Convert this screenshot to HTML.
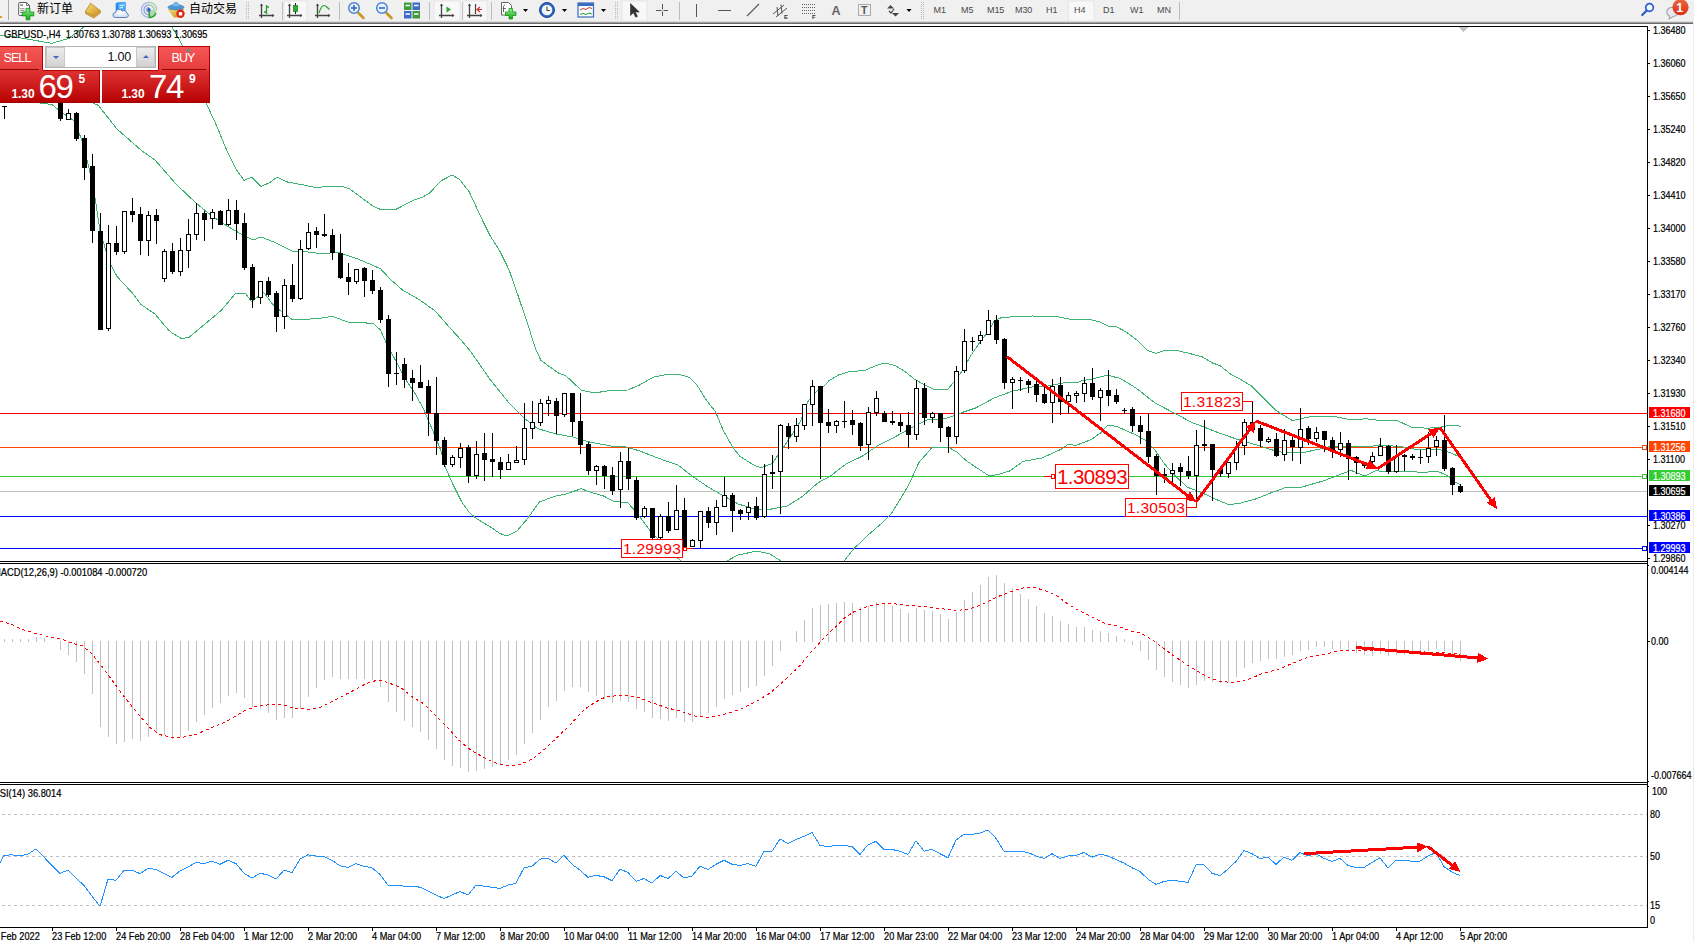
<!DOCTYPE html>
<html><head><meta charset="utf-8"><title>GBPUSD H4</title><style>
*{box-sizing:border-box;margin:0;padding:0}
html,body{width:1694px;height:942px;overflow:hidden;background:#fff}
body{position:relative;font-family:"Liberation Sans","Noto Sans CJK SC",sans-serif;color:#000}
.cv{position:absolute;left:0;top:0}
.tb{position:absolute;left:0;top:0;width:1694px;height:22px;background:#f0f0f0}
.tbl{position:absolute;left:0;top:21px;width:1693px;height:3px;background:linear-gradient(#dcdcdc 0,#dcdcdc 33.3%,#a0a0a0 33.3%,#a0a0a0 66.6%,#6c6c6c 66.6%)}.re{position:absolute;left:1693px;top:21px;width:1px;height:921px;background:#ececec}
.ax{position:absolute;-webkit-text-stroke:0.22px #000;font-size:10.3px;line-height:12px;white-space:pre;transform-origin:0 0;margin-top:1px}
.ti{font-size:10.3px}
.pl{position:absolute;left:1649px;width:41px;height:11px;color:#fff;font-size:10.3px;line-height:12px;white-space:pre;-webkit-text-stroke:0.2px #fff}.pl span{display:block;margin-left:4.4px;margin-top:1.1px;transform:scaleX(.875);transform-origin:0 0}
.rl{position:absolute;border:1px solid #ff0000;background:#fff;color:#ff0000;text-align:center;white-space:pre;font-family:"Liberation Sans",sans-serif}
.pn{position:absolute;left:0;top:46px;width:210px;height:57px;background:#fff}
.sell,.buy{position:absolute;top:0;height:25px;background:linear-gradient(#f85858,#e33c3c);color:#fff;font-size:12.5px;line-height:24px;letter-spacing:-0.9px}
.sell{left:0;width:43px;box-shadow:inset -1px 1px 0 #b40000}
.sell span{position:absolute;left:3.5px}
.buy{left:158px;width:52px;box-shadow:inset 1px 1px 0 #b40000,inset -1px 0 0 #b40000}
.buy span{position:absolute;left:13.5px}
.sell u,.buy u{position:absolute;top:24px;height:1px;background:#f87878}.sell u.d,.buy u.d{top:23px;background:#900000}.tp{position:absolute;top:24px;height:1px;background:#b40000}.dm{position:absolute;left:187px;top:3px;width:3px;height:3px;border:1px solid #2aa0a0;transform:rotate(45deg)}
.spin{position:absolute;left:45px;top:0;width:111px;height:22px;border:1px solid #b5b5b5;background:#fff;display:flex}
.sb{width:19px;height:20px;background:linear-gradient(#ececec,#d2d2d2);border:1px solid #fafafa;position:relative;outline:1px solid #c8c8c8;outline-offset:-1px}
.sb i{position:absolute;left:6px;top:8px;border-left:3px solid transparent;border-right:3px solid transparent}
.sb i.dn{border-top:3.5px solid #4864c8}
.sb i.up{border-bottom:3.5px solid #4864c8;top:7px}
.si{flex:1;text-align:right;padding-right:5px;font-size:12.5px;line-height:20px;color:#111;letter-spacing:-0.2px}
.pb{position:absolute;top:24px;height:33px;background:linear-gradient(#df3333,#cc1b1b 50%,#b50000);color:#fff;box-shadow:inset 0 -1px 0 #a40000,inset -1px 0 0 #b00000}
.pb .sm{position:absolute;top:17.5px;font-size:12px;line-height:12px;letter-spacing:-0.1px}
.pb .bg{position:absolute;top:-0.5px;font-size:33px;line-height:33px;letter-spacing:-1.4px}
.pb .sp{position:absolute;top:2.5px;font-size:12px;line-height:12px}
.tx{position:absolute;top:0;font-size:12px;line-height:18px;white-space:pre;color:#000}
.tf{position:absolute;top:5px;font-size:9px;line-height:10px;color:#4a4a4a;white-space:pre;letter-spacing:-0.1px}
.ti2{position:absolute;left:0;top:0}
</style></head>
<body>
<div class="tb"></div><div class="tbl"></div><div class="re"></div>
<svg class="cv" width="1694" height="942" viewBox="0 0 1694 942" shape-rendering="crispEdges"><rect x="0" y="413" width="1647" height="1" fill="#ff0000"/><rect x="0" y="447" width="1647" height="1" fill="#ff4500"/><rect x="0" y="476" width="1647" height="1" fill="#32cd32"/><rect x="0" y="491" width="1647" height="1" fill="#c0c0c0"/><rect x="0" y="516" width="1647" height="1" fill="#0000ff"/><rect x="0" y="548" width="1647" height="1" fill="#0000ff"/><g fill="none" stroke="#3cb371" stroke-width="1"><polyline points="0.0,35.5 14.0,36.9 35.0,40.4 52.0,43.3 69.0,38.3 85.0,26.0"/><polyline points="171.5,26.0 181.5,43.5 207.0,105.0 216.7,126.0 226.0,148.5 235.6,168.5 244.0,180.5 251.5,177.2 261.0,186.5 269.6,182.6 277.0,177.2 288.0,182.2 303.0,184.8 317.0,188.0 324.5,186.6 342.0,186.4 350.0,189.0 361.6,197.8 373.0,206.0 380.5,209.5 395.6,209.5 414.5,199.7 422.0,197.4 429.6,193.0 441.0,180.8 452.3,175.0 460.0,179.8 469.3,192.0 480.7,216.7 490.0,235.6 499.6,250.7 509.0,269.6 518.5,297.0 528.0,325.0 535.5,349.0 541.0,360.5 558.0,372.8 565.7,375.6 581.0,390.0 594.0,393.0 611.0,390.4 628.0,390.0 640.0,384.8 653.0,377.3 666.5,374.5 679.7,374.5 689.0,377.3 696.7,384.5 706.0,399.6 715.6,412.0 723.0,430.0 732.6,447.0 740.0,456.4 753.4,464.9 761.0,467.7 772.3,463.5 783.7,447.0 791.0,436.0 800.7,421.0 808.0,401.5 815.8,392.0 823.4,386.4 829.0,380.7 838.5,375.0 848.0,372.0 865.0,370.3 876.0,365.6 884.8,363.0 895.0,365.6 904.7,371.3 914.0,378.8 923.6,384.5 933.0,389.0 948.0,389.0 954.0,382.0 962.0,371.0 971.8,354.0 979.4,343.0 988.8,330.6 994.5,320.5 1002.0,317.4 1032.0,316.0 1057.0,316.5 1070.0,319.3 1089.0,319.3 1100.0,322.0 1108.0,326.0 1117.0,327.0 1127.0,332.5 1138.0,341.0 1147.6,350.5 1156.0,353.3 1164.7,350.5 1174.0,350.0 1189.0,353.3 1202.5,357.0 1212.0,362.8 1220.0,365.6 1231.4,374.7 1241.6,380.0 1251.0,385.7 1260.5,395.0 1275.6,410.0 1283.0,415.0 1292.6,420.6 1313.4,416.0 1332.0,416.0 1351.0,419.7 1366.0,418.8 1381.5,420.6 1396.6,420.3 1411.7,427.3 1426.8,428.2 1440.0,427.3 1451.0,425.0 1461.0,426.3"/><polyline points="0.0,68.0 50.0,84.0 98.3,105.4 117.0,129.0 141.8,150.8 155.0,160.0 175.8,183.8 195.7,202.8 208.0,213.0 223.0,223.6 242.0,234.6 253.0,240.0 261.0,237.0 274.0,242.0 293.0,251.4 302.5,251.4 320.0,253.5 339.0,252.6 357.8,258.9 380.5,268.7 390.0,279.0 403.0,290.4 418.3,299.0 435.3,311.0 448.5,326.4 459.0,337.7 471.0,352.0 490.0,379.4 509.0,403.0 524.0,418.0 537.4,428.5 556.0,434.0 573.0,437.0 588.4,441.8 611.0,446.0 624.0,446.5 640.0,451.0 649.5,454.8 664.6,460.5 677.8,465.0 693.0,476.6 708.0,487.0 723.0,495.5 738.3,504.0 753.4,508.7 768.5,509.6 787.4,505.9 802.6,496.4 817.7,483.0 831.0,475.6 846.0,464.0 863.0,455.8 878.0,445.4 895.0,436.9 910.3,428.4 927.3,420.0 946.0,418.5 962.0,412.5 975.6,408.0 994.5,397.8 1013.0,391.0 1032.0,387.0 1049.7,385.9 1056.5,384.2 1065.8,382.5 1077.7,382.5 1082.8,380.4 1092.2,379.1 1107.4,375.1 1112.0,376.4 1120.0,378.3 1136.0,388.0 1155.0,403.0 1174.0,412.9 1193.0,423.0 1200.0,425.4 1219.0,433.0 1237.8,439.5 1256.7,445.0 1275.6,451.0 1285.0,452.8 1302.0,452.8 1323.0,448.4 1332.0,446.0 1351.0,446.0 1360.7,447.0 1370.0,446.5 1379.6,445.0 1400.0,446.5 1417.0,449.6 1436.0,449.0 1445.7,450.9 1457.0,455.6 1461.0,457.0"/><polyline points="0.0,98.0 52.0,104.5 62.4,113.0 73.7,120.5 81.3,138.5 88.8,166.8 95.5,200.9 100.0,231.0 106.0,251.0 111.5,266.0 117.0,276.5 132.0,292.6 141.0,304.5 155.0,314.0 168.0,329.5 172.0,333.0 181.5,338.5 189.0,337.4 204.0,324.8 221.0,310.6 236.0,293.0 245.0,293.0 252.0,302.0 263.0,291.7 274.0,305.9 281.7,311.5 292.0,319.5 302.5,319.5 320.0,318.4 332.3,316.3 348.4,322.2 373.0,323.3 380.5,330.0 386.0,342.5 395.6,360.5 405.0,378.4 414.5,392.6 423.0,407.8 427.8,419.0 433.4,432.0 441.0,451.0 444.8,466.0 452.3,483.0 461.8,502.0 469.3,512.5 477.0,519.0 490.0,526.7 499.6,533.3 507.0,536.0 516.6,531.4 528.0,518.0 539.3,502.0 554.4,496.4 565.7,494.0 581.0,488.8 592.0,492.6 603.5,496.0 613.0,501.0 628.0,503.0 635.7,511.5 640.0,517.0 645.7,524.8 651.0,532.0 660.0,541.0 670.0,551.0 681.0,561.0"/><polyline points="727.0,561.0 738.0,555.0 757.0,551.0 770.0,554.0 781.0,561.0"/><polyline points="844.0,561.0 853.6,549.0 867.0,536.0 882.0,522.9 891.4,513.4 901.0,498.0 907.6,487.0 913.0,475.6 919.0,462.4 932.0,447.5 949.0,447.5 956.7,452.0 966.0,460.5 975.6,467.0 988.8,475.6 998.0,474.7 1009.6,471.0 1023.0,461.4 1041.8,458.0 1060.7,449.5 1068.0,444.4 1075.8,445.4 1091.0,439.7 1100.4,433.0 1108.0,425.0 1117.0,426.5 1136.0,435.0 1145.7,440.6 1155.0,450.0 1164.6,464.0 1174.0,474.7 1187.0,487.0 1202.5,493.0 1215.0,499.0 1228.0,504.4 1237.8,503.8 1256.7,498.7 1271.8,492.5 1285.0,487.8 1302.0,487.0 1323.0,481.0 1340.0,474.5 1351.0,470.4 1364.5,476.0 1375.8,470.7 1389.0,472.0 1408.0,471.0 1423.0,472.6 1436.0,471.0 1445.7,474.5 1455.0,482.0 1461.0,485.0"/></g><g fill="#000"><rect x="4" y="106" width="1" height="13"/><rect x="2" y="106" width="5" height="1"/><rect x="60" y="92" width="1" height="29"/><rect x="58" y="95" width="5" height="24"/><rect x="68" y="109" width="1" height="11"/><rect x="66" y="113" width="5" height="7"/><rect x="67" y="114" width="3" height="5" fill="#fff"/><rect x="76" y="112" width="1" height="29"/><rect x="74" y="113" width="5" height="26"/><rect x="84" y="135" width="1" height="45"/><rect x="82" y="138" width="5" height="30"/><rect x="92" y="154" width="1" height="89"/><rect x="90" y="166" width="5" height="65"/><rect x="100" y="213" width="1" height="117"/><rect x="98" y="231" width="5" height="99"/><rect x="108" y="225" width="1" height="106"/><rect x="106" y="243" width="5" height="86"/><rect x="107" y="244" width="3" height="84" fill="#fff"/><rect x="116" y="226" width="1" height="29"/><rect x="114" y="243" width="5" height="9"/><rect x="124" y="211" width="1" height="43"/><rect x="122" y="211" width="5" height="41"/><rect x="123" y="212" width="3" height="39" fill="#fff"/><rect x="132" y="198" width="1" height="24"/><rect x="130" y="211" width="5" height="4"/><rect x="140" y="207" width="1" height="48"/><rect x="138" y="214" width="5" height="27"/><rect x="148" y="211" width="1" height="45"/><rect x="146" y="215" width="5" height="26"/><rect x="147" y="216" width="3" height="24" fill="#fff"/><rect x="156" y="209" width="1" height="35"/><rect x="154" y="215" width="5" height="6"/><rect x="164" y="249" width="1" height="33"/><rect x="162" y="251" width="5" height="28"/><rect x="163" y="252" width="3" height="26" fill="#fff"/><rect x="172" y="243" width="1" height="31"/><rect x="170" y="251" width="5" height="21"/><rect x="180" y="238" width="1" height="38"/><rect x="178" y="250" width="5" height="22"/><rect x="179" y="251" width="3" height="20" fill="#fff"/><rect x="188" y="219" width="1" height="49"/><rect x="186" y="234" width="5" height="17"/><rect x="187" y="235" width="3" height="15" fill="#fff"/><rect x="196" y="203" width="1" height="37"/><rect x="194" y="213" width="5" height="22"/><rect x="195" y="214" width="3" height="20" fill="#fff"/><rect x="204" y="211" width="1" height="30"/><rect x="202" y="213" width="5" height="7"/><rect x="212" y="209" width="1" height="20"/><rect x="210" y="212" width="5" height="7"/><rect x="211" y="213" width="3" height="5" fill="#fff"/><rect x="220" y="210" width="1" height="15"/><rect x="218" y="211" width="5" height="14"/><rect x="228" y="199" width="1" height="27"/><rect x="226" y="210" width="5" height="15"/><rect x="227" y="211" width="3" height="13" fill="#fff"/><rect x="236" y="200" width="1" height="40"/><rect x="234" y="210" width="5" height="14"/><rect x="244" y="213" width="1" height="57"/><rect x="242" y="223" width="5" height="45"/><rect x="252" y="264" width="1" height="44"/><rect x="250" y="267" width="5" height="33"/><rect x="260" y="281" width="1" height="23"/><rect x="258" y="281" width="5" height="17"/><rect x="259" y="282" width="3" height="15" fill="#fff"/><rect x="268" y="277" width="1" height="20"/><rect x="266" y="281" width="5" height="14"/><rect x="276" y="291" width="1" height="41"/><rect x="274" y="293" width="5" height="24"/><rect x="284" y="279" width="1" height="50"/><rect x="282" y="285" width="5" height="32"/><rect x="283" y="286" width="3" height="30" fill="#fff"/><rect x="292" y="264" width="1" height="38"/><rect x="290" y="285" width="5" height="14"/><rect x="300" y="240" width="1" height="60"/><rect x="298" y="249" width="5" height="50"/><rect x="299" y="250" width="3" height="48" fill="#fff"/><rect x="308" y="223" width="1" height="27"/><rect x="306" y="232" width="5" height="17"/><rect x="307" y="233" width="3" height="15" fill="#fff"/><rect x="316" y="227" width="1" height="21"/><rect x="314" y="231" width="5" height="4"/><rect x="324" y="214" width="1" height="23"/><rect x="322" y="234" width="5" height="2"/><rect x="332" y="229" width="1" height="31"/><rect x="330" y="235" width="5" height="18"/><rect x="340" y="234" width="1" height="45"/><rect x="338" y="253" width="5" height="25"/><rect x="348" y="263" width="1" height="32"/><rect x="346" y="277" width="5" height="5"/><rect x="356" y="269" width="1" height="15"/><rect x="354" y="269" width="5" height="13"/><rect x="355" y="270" width="3" height="11" fill="#fff"/><rect x="364" y="267" width="1" height="30"/><rect x="362" y="268" width="5" height="13"/><rect x="372" y="270" width="1" height="24"/><rect x="370" y="280" width="5" height="11"/><rect x="380" y="287" width="1" height="36"/><rect x="378" y="290" width="5" height="30"/><rect x="388" y="315" width="1" height="72"/><rect x="386" y="319" width="5" height="55"/><rect x="396" y="352" width="1" height="33"/><rect x="394" y="373" width="5" height="1"/><rect x="404" y="358" width="1" height="30"/><rect x="402" y="364" width="5" height="16"/><rect x="412" y="370" width="1" height="31"/><rect x="410" y="378" width="5" height="5"/><rect x="420" y="365" width="1" height="23"/><rect x="418" y="382" width="5" height="6"/><rect x="428" y="380" width="1" height="56"/><rect x="426" y="386" width="5" height="27"/><rect x="436" y="377" width="1" height="78"/><rect x="434" y="413" width="5" height="28"/><rect x="444" y="437" width="1" height="30"/><rect x="442" y="440" width="5" height="25"/><rect x="452" y="455" width="1" height="12"/><rect x="450" y="457" width="5" height="8"/><rect x="451" y="458" width="3" height="6" fill="#fff"/><rect x="460" y="443" width="1" height="25"/><rect x="458" y="448" width="5" height="10"/><rect x="459" y="449" width="3" height="8" fill="#fff"/><rect x="468" y="445" width="1" height="38"/><rect x="466" y="447" width="5" height="29"/><rect x="476" y="441" width="1" height="38"/><rect x="474" y="454" width="5" height="22"/><rect x="475" y="455" width="3" height="20" fill="#fff"/><rect x="484" y="433" width="1" height="48"/><rect x="482" y="453" width="5" height="7"/><rect x="492" y="433" width="1" height="44"/><rect x="490" y="459" width="5" height="3"/><rect x="500" y="457" width="1" height="22"/><rect x="498" y="462" width="5" height="8"/><rect x="508" y="454" width="1" height="16"/><rect x="506" y="462" width="5" height="8"/><rect x="507" y="463" width="3" height="6" fill="#fff"/><rect x="516" y="446" width="1" height="17"/><rect x="514" y="460" width="5" height="3"/><rect x="515" y="461" width="3" height="1" fill="#fff"/><rect x="524" y="403" width="1" height="62"/><rect x="522" y="428" width="5" height="32"/><rect x="523" y="429" width="3" height="30" fill="#fff"/><rect x="532" y="401" width="1" height="38"/><rect x="530" y="422" width="5" height="7"/><rect x="531" y="423" width="3" height="5" fill="#fff"/><rect x="540" y="399" width="1" height="27"/><rect x="538" y="403" width="5" height="20"/><rect x="539" y="404" width="3" height="18" fill="#fff"/><rect x="548" y="396" width="1" height="20"/><rect x="546" y="400" width="5" height="4"/><rect x="547" y="401" width="3" height="2" fill="#fff"/><rect x="556" y="398" width="1" height="36"/><rect x="554" y="401" width="5" height="15"/><rect x="564" y="393" width="1" height="24"/><rect x="562" y="393" width="5" height="22"/><rect x="563" y="394" width="3" height="20" fill="#fff"/><rect x="572" y="393" width="1" height="43"/><rect x="570" y="393" width="5" height="29"/><rect x="580" y="393" width="1" height="61"/><rect x="578" y="421" width="5" height="24"/><rect x="588" y="442" width="1" height="33"/><rect x="586" y="444" width="5" height="27"/><rect x="596" y="465" width="1" height="20"/><rect x="594" y="466" width="5" height="5"/><rect x="595" y="467" width="3" height="3" fill="#fff"/><rect x="604" y="465" width="1" height="24"/><rect x="602" y="466" width="5" height="10"/><rect x="612" y="467" width="1" height="28"/><rect x="610" y="475" width="5" height="16"/><rect x="620" y="452" width="1" height="56"/><rect x="618" y="461" width="5" height="29"/><rect x="619" y="462" width="3" height="27" fill="#fff"/><rect x="628" y="448" width="1" height="42"/><rect x="626" y="461" width="5" height="18"/><rect x="636" y="477" width="1" height="43"/><rect x="634" y="480" width="5" height="38"/><rect x="644" y="506" width="1" height="12"/><rect x="642" y="508" width="5" height="9"/><rect x="643" y="509" width="3" height="7" fill="#fff"/><rect x="652" y="508" width="1" height="32"/><rect x="650" y="508" width="5" height="30"/><rect x="660" y="514" width="1" height="27"/><rect x="658" y="516" width="5" height="22"/><rect x="659" y="517" width="3" height="20" fill="#fff"/><rect x="668" y="502" width="1" height="31"/><rect x="666" y="516" width="5" height="15"/><rect x="676" y="485" width="1" height="45"/><rect x="674" y="510" width="5" height="20"/><rect x="675" y="511" width="3" height="18" fill="#fff"/><rect x="684" y="498" width="1" height="51"/><rect x="682" y="510" width="5" height="37"/><rect x="692" y="539" width="1" height="8"/><rect x="690" y="540" width="5" height="7"/><rect x="691" y="541" width="3" height="5" fill="#fff"/><rect x="700" y="511" width="1" height="37"/><rect x="698" y="511" width="5" height="30"/><rect x="699" y="512" width="3" height="28" fill="#fff"/><rect x="708" y="507" width="1" height="21"/><rect x="706" y="511" width="5" height="12"/><rect x="716" y="500" width="1" height="35"/><rect x="714" y="507" width="5" height="16"/><rect x="715" y="508" width="3" height="14" fill="#fff"/><rect x="724" y="477" width="1" height="30"/><rect x="722" y="495" width="5" height="12"/><rect x="723" y="496" width="3" height="10" fill="#fff"/><rect x="732" y="493" width="1" height="39"/><rect x="730" y="495" width="5" height="16"/><rect x="740" y="509" width="1" height="11"/><rect x="738" y="510" width="5" height="4"/><rect x="748" y="502" width="1" height="18"/><rect x="746" y="507" width="5" height="6"/><rect x="747" y="508" width="3" height="4" fill="#fff"/><rect x="756" y="497" width="1" height="23"/><rect x="754" y="506" width="5" height="12"/><rect x="764" y="464" width="1" height="54"/><rect x="762" y="474" width="5" height="43"/><rect x="763" y="475" width="3" height="41" fill="#fff"/><rect x="772" y="455" width="1" height="34"/><rect x="770" y="472" width="5" height="2"/><rect x="780" y="424" width="1" height="90"/><rect x="778" y="425" width="5" height="47"/><rect x="779" y="426" width="3" height="45" fill="#fff"/><rect x="788" y="423" width="1" height="26"/><rect x="786" y="426" width="5" height="11"/><rect x="796" y="418" width="1" height="24"/><rect x="794" y="425" width="5" height="12"/><rect x="795" y="426" width="3" height="10" fill="#fff"/><rect x="804" y="404" width="1" height="26"/><rect x="802" y="404" width="5" height="22"/><rect x="803" y="405" width="3" height="20" fill="#fff"/><rect x="812" y="380" width="1" height="46"/><rect x="810" y="386" width="5" height="19"/><rect x="811" y="387" width="3" height="17" fill="#fff"/><rect x="820" y="386" width="1" height="93"/><rect x="818" y="386" width="5" height="37"/><rect x="828" y="409" width="1" height="24"/><rect x="826" y="422" width="5" height="4"/><rect x="836" y="420" width="1" height="13"/><rect x="834" y="421" width="5" height="5"/><rect x="835" y="422" width="3" height="3" fill="#fff"/><rect x="844" y="401" width="1" height="27"/><rect x="842" y="421" width="5" height="1"/><rect x="852" y="410" width="1" height="25"/><rect x="850" y="420" width="5" height="5"/><rect x="860" y="422" width="1" height="29"/><rect x="858" y="423" width="5" height="23"/><rect x="868" y="407" width="1" height="53"/><rect x="866" y="412" width="5" height="33"/><rect x="867" y="413" width="3" height="31" fill="#fff"/><rect x="876" y="391" width="1" height="25"/><rect x="874" y="398" width="5" height="15"/><rect x="875" y="399" width="3" height="13" fill="#fff"/><rect x="884" y="411" width="1" height="11"/><rect x="882" y="413" width="5" height="9"/><rect x="892" y="411" width="1" height="14"/><rect x="890" y="421" width="5" height="2"/><rect x="900" y="414" width="1" height="18"/><rect x="898" y="422" width="5" height="4"/><rect x="908" y="412" width="1" height="36"/><rect x="906" y="425" width="5" height="10"/><rect x="916" y="380" width="1" height="60"/><rect x="914" y="388" width="5" height="47"/><rect x="915" y="389" width="3" height="45" fill="#fff"/><rect x="924" y="383" width="1" height="42"/><rect x="922" y="388" width="5" height="30"/><rect x="932" y="412" width="1" height="11"/><rect x="930" y="413" width="5" height="5"/><rect x="931" y="414" width="3" height="3" fill="#fff"/><rect x="940" y="413" width="1" height="29"/><rect x="938" y="413" width="5" height="15"/><rect x="948" y="426" width="1" height="27"/><rect x="946" y="427" width="5" height="10"/><rect x="956" y="366" width="1" height="78"/><rect x="954" y="371" width="5" height="66"/><rect x="955" y="372" width="3" height="64" fill="#fff"/><rect x="964" y="329" width="1" height="44"/><rect x="962" y="341" width="5" height="30"/><rect x="963" y="342" width="3" height="28" fill="#fff"/><rect x="972" y="337" width="1" height="14"/><rect x="970" y="341" width="5" height="1"/><rect x="980" y="331" width="1" height="13"/><rect x="978" y="335" width="5" height="6"/><rect x="979" y="336" width="3" height="4" fill="#fff"/><rect x="988" y="310" width="1" height="25"/><rect x="986" y="320" width="5" height="15"/><rect x="987" y="321" width="3" height="13" fill="#fff"/><rect x="996" y="315" width="1" height="29"/><rect x="994" y="320" width="5" height="20"/><rect x="1004" y="338" width="1" height="51"/><rect x="1002" y="339" width="5" height="44"/><rect x="1012" y="377" width="1" height="32"/><rect x="1010" y="379" width="5" height="4"/><rect x="1011" y="380" width="3" height="2" fill="#fff"/><rect x="1020" y="377" width="1" height="14"/><rect x="1018" y="380" width="5" height="1"/><rect x="1028" y="379" width="1" height="14"/><rect x="1026" y="381" width="5" height="4"/><rect x="1036" y="381" width="1" height="21"/><rect x="1034" y="384" width="5" height="11"/><rect x="1044" y="387" width="1" height="17"/><rect x="1042" y="394" width="5" height="9"/><rect x="1052" y="379" width="1" height="44"/><rect x="1050" y="386" width="5" height="17"/><rect x="1051" y="387" width="3" height="15" fill="#fff"/><rect x="1060" y="377" width="1" height="38"/><rect x="1058" y="385" width="5" height="17"/><rect x="1068" y="392" width="1" height="22"/><rect x="1066" y="395" width="5" height="7"/><rect x="1067" y="396" width="3" height="5" fill="#fff"/><rect x="1076" y="391" width="1" height="12"/><rect x="1074" y="393" width="5" height="3"/><rect x="1075" y="394" width="3" height="1" fill="#fff"/><rect x="1084" y="377" width="1" height="25"/><rect x="1082" y="383" width="5" height="11"/><rect x="1083" y="384" width="3" height="9" fill="#fff"/><rect x="1092" y="368" width="1" height="32"/><rect x="1090" y="383" width="5" height="14"/><rect x="1100" y="388" width="1" height="33"/><rect x="1098" y="390" width="5" height="8"/><rect x="1099" y="391" width="3" height="6" fill="#fff"/><rect x="1108" y="370" width="1" height="36"/><rect x="1106" y="390" width="5" height="6"/><rect x="1116" y="389" width="1" height="15"/><rect x="1114" y="395" width="5" height="7"/><rect x="1124" y="408" width="1" height="6"/><rect x="1122" y="410" width="5" height="1"/><rect x="1132" y="407" width="1" height="25"/><rect x="1130" y="409" width="5" height="17"/><rect x="1140" y="416" width="1" height="28"/><rect x="1138" y="425" width="5" height="7"/><rect x="1148" y="413" width="1" height="50"/><rect x="1146" y="431" width="5" height="26"/><rect x="1156" y="454" width="1" height="41"/><rect x="1154" y="456" width="5" height="20"/><rect x="1164" y="468" width="1" height="15"/><rect x="1162" y="474" width="5" height="2"/><rect x="1172" y="463" width="1" height="19"/><rect x="1170" y="470" width="5" height="4"/><rect x="1171" y="471" width="3" height="2" fill="#fff"/><rect x="1180" y="463" width="1" height="23"/><rect x="1178" y="467" width="5" height="5"/><rect x="1188" y="456" width="1" height="23"/><rect x="1186" y="471" width="5" height="5"/><rect x="1196" y="430" width="1" height="78"/><rect x="1194" y="445" width="5" height="31"/><rect x="1195" y="446" width="3" height="29" fill="#fff"/><rect x="1204" y="420" width="1" height="31"/><rect x="1202" y="444" width="5" height="2"/><rect x="1212" y="444" width="1" height="57"/><rect x="1210" y="444" width="5" height="26"/><rect x="1220" y="466" width="1" height="11"/><rect x="1218" y="469" width="5" height="5"/><rect x="1228" y="462" width="1" height="16"/><rect x="1226" y="462" width="5" height="12"/><rect x="1227" y="463" width="3" height="10" fill="#fff"/><rect x="1236" y="441" width="1" height="29"/><rect x="1234" y="447" width="5" height="16"/><rect x="1235" y="448" width="3" height="14" fill="#fff"/><rect x="1244" y="419" width="1" height="36"/><rect x="1242" y="422" width="5" height="24"/><rect x="1243" y="423" width="3" height="22" fill="#fff"/><rect x="1252" y="402" width="1" height="30"/><rect x="1250" y="422" width="5" height="8"/><rect x="1260" y="425" width="1" height="22"/><rect x="1258" y="428" width="5" height="13"/><rect x="1268" y="437" width="1" height="6"/><rect x="1266" y="439" width="5" height="3"/><rect x="1267" y="440" width="3" height="1" fill="#fff"/><rect x="1276" y="433" width="1" height="24"/><rect x="1274" y="439" width="5" height="17"/><rect x="1284" y="429" width="1" height="32"/><rect x="1282" y="440" width="5" height="15"/><rect x="1283" y="441" width="3" height="13" fill="#fff"/><rect x="1292" y="435" width="1" height="26"/><rect x="1290" y="440" width="5" height="7"/><rect x="1300" y="408" width="1" height="56"/><rect x="1298" y="429" width="5" height="19"/><rect x="1299" y="430" width="3" height="17" fill="#fff"/><rect x="1308" y="426" width="1" height="19"/><rect x="1306" y="428" width="5" height="11"/><rect x="1316" y="427" width="1" height="15"/><rect x="1314" y="432" width="5" height="7"/><rect x="1315" y="433" width="3" height="5" fill="#fff"/><rect x="1324" y="431" width="1" height="21"/><rect x="1322" y="431" width="5" height="9"/><rect x="1332" y="437" width="1" height="21"/><rect x="1330" y="440" width="5" height="10"/><rect x="1340" y="432" width="1" height="25"/><rect x="1338" y="443" width="5" height="7"/><rect x="1339" y="444" width="3" height="5" fill="#fff"/><rect x="1348" y="440" width="1" height="40"/><rect x="1346" y="443" width="5" height="16"/><rect x="1356" y="456" width="1" height="18"/><rect x="1354" y="457" width="5" height="6"/><rect x="1364" y="462" width="1" height="6"/><rect x="1362" y="463" width="5" height="3"/><rect x="1372" y="452" width="1" height="15"/><rect x="1370" y="456" width="5" height="6"/><rect x="1371" y="457" width="3" height="4" fill="#fff"/><rect x="1380" y="438" width="1" height="18"/><rect x="1378" y="446" width="5" height="10"/><rect x="1379" y="447" width="3" height="8" fill="#fff"/><rect x="1388" y="445" width="1" height="29"/><rect x="1386" y="446" width="5" height="26"/><rect x="1396" y="445" width="1" height="28"/><rect x="1394" y="456" width="5" height="16"/><rect x="1395" y="457" width="3" height="14" fill="#fff"/><rect x="1404" y="454" width="1" height="17"/><rect x="1402" y="455" width="5" height="2"/><rect x="1412" y="454" width="1" height="6"/><rect x="1410" y="456" width="5" height="2"/><rect x="1420" y="450" width="1" height="14"/><rect x="1418" y="457" width="5" height="1"/><rect x="1428" y="432" width="1" height="31"/><rect x="1426" y="448" width="5" height="9"/><rect x="1427" y="449" width="3" height="7" fill="#fff"/><rect x="1436" y="436" width="1" height="20"/><rect x="1434" y="440" width="5" height="7"/><rect x="1435" y="441" width="3" height="5" fill="#fff"/><rect x="1444" y="415" width="1" height="56"/><rect x="1442" y="440" width="5" height="29"/><rect x="1452" y="467" width="1" height="28"/><rect x="1450" y="468" width="5" height="17"/><rect x="1460" y="484" width="1" height="9"/><rect x="1458" y="486" width="5" height="6"/></g><g fill="#c0c0c0"><rect x="4" y="639" width="1" height="3"/><rect x="12" y="639" width="1" height="3"/><rect x="20" y="639" width="1" height="3"/><rect x="28" y="639" width="1" height="3"/><rect x="36" y="637" width="1" height="5"/><rect x="44" y="638" width="1" height="4"/><rect x="60" y="641" width="1" height="9"/><rect x="68" y="641" width="1" height="14"/><rect x="76" y="641" width="1" height="21"/><rect x="84" y="641" width="1" height="33"/><rect x="92" y="641" width="1" height="53"/><rect x="100" y="641" width="1" height="86"/><rect x="108" y="641" width="1" height="96"/><rect x="116" y="641" width="1" height="103"/><rect x="124" y="641" width="1" height="101"/><rect x="132" y="641" width="1" height="98"/><rect x="140" y="641" width="1" height="100"/><rect x="148" y="641" width="1" height="96"/><rect x="156" y="641" width="1" height="92"/><rect x="164" y="641" width="1" height="94"/><rect x="172" y="641" width="1" height="98"/><rect x="180" y="641" width="1" height="96"/><rect x="188" y="641" width="1" height="90"/><rect x="196" y="641" width="1" height="81"/><rect x="204" y="641" width="1" height="74"/><rect x="212" y="641" width="1" height="67"/><rect x="220" y="641" width="1" height="62"/><rect x="228" y="641" width="1" height="55"/><rect x="236" y="641" width="1" height="52"/><rect x="244" y="641" width="1" height="57"/><rect x="252" y="641" width="1" height="66"/><rect x="260" y="641" width="1" height="68"/><rect x="268" y="641" width="1" height="72"/><rect x="276" y="641" width="1" height="79"/><rect x="284" y="641" width="1" height="77"/><rect x="292" y="641" width="1" height="77"/><rect x="300" y="641" width="1" height="68"/><rect x="308" y="641" width="1" height="56"/><rect x="316" y="641" width="1" height="47"/><rect x="324" y="641" width="1" height="39"/><rect x="332" y="641" width="1" height="36"/><rect x="340" y="641" width="1" height="38"/><rect x="348" y="641" width="1" height="38"/><rect x="356" y="641" width="1" height="38"/><rect x="364" y="641" width="1" height="38"/><rect x="372" y="641" width="1" height="39"/><rect x="380" y="641" width="1" height="46"/><rect x="388" y="641" width="1" height="61"/><rect x="396" y="641" width="1" height="71"/><rect x="404" y="641" width="1" height="80"/><rect x="412" y="641" width="1" height="86"/><rect x="420" y="641" width="1" height="91"/><rect x="428" y="641" width="1" height="99"/><rect x="436" y="641" width="1" height="108"/><rect x="444" y="641" width="1" height="119"/><rect x="452" y="641" width="1" height="125"/><rect x="460" y="641" width="1" height="127"/><rect x="468" y="641" width="1" height="131"/><rect x="476" y="641" width="1" height="130"/><rect x="484" y="641" width="1" height="128"/><rect x="492" y="641" width="1" height="126"/><rect x="500" y="641" width="1" height="124"/><rect x="508" y="641" width="1" height="119"/><rect x="516" y="641" width="1" height="114"/><rect x="524" y="641" width="1" height="103"/><rect x="532" y="641" width="1" height="92"/><rect x="540" y="641" width="1" height="79"/><rect x="548" y="641" width="1" height="66"/><rect x="556" y="641" width="1" height="60"/><rect x="564" y="641" width="1" height="50"/><rect x="572" y="641" width="1" height="46"/><rect x="580" y="641" width="1" height="46"/><rect x="588" y="641" width="1" height="51"/><rect x="596" y="641" width="1" height="55"/><rect x="604" y="641" width="1" height="58"/><rect x="612" y="641" width="1" height="62"/><rect x="620" y="641" width="1" height="60"/><rect x="628" y="641" width="1" height="61"/><rect x="636" y="641" width="1" height="68"/><rect x="644" y="641" width="1" height="71"/><rect x="652" y="641" width="1" height="77"/><rect x="660" y="641" width="1" height="78"/><rect x="668" y="641" width="1" height="80"/><rect x="676" y="641" width="1" height="77"/><rect x="684" y="641" width="1" height="81"/><rect x="692" y="641" width="1" height="81"/><rect x="700" y="641" width="1" height="76"/><rect x="708" y="641" width="1" height="72"/><rect x="716" y="641" width="1" height="66"/><rect x="724" y="641" width="1" height="58"/><rect x="732" y="641" width="1" height="54"/><rect x="740" y="641" width="1" height="51"/><rect x="748" y="641" width="1" height="47"/><rect x="756" y="641" width="1" height="45"/><rect x="764" y="641" width="1" height="35"/><rect x="772" y="641" width="1" height="25"/><rect x="780" y="641" width="1" height="10"/><rect x="796" y="631" width="1" height="11"/><rect x="804" y="620" width="1" height="22"/><rect x="812" y="608" width="1" height="34"/><rect x="820" y="605" width="1" height="37"/><rect x="828" y="604" width="1" height="38"/><rect x="836" y="603" width="1" height="39"/><rect x="844" y="602" width="1" height="40"/><rect x="852" y="603" width="1" height="39"/><rect x="860" y="607" width="1" height="35"/><rect x="868" y="606" width="1" height="36"/><rect x="876" y="602" width="1" height="40"/><rect x="884" y="604" width="1" height="38"/><rect x="892" y="606" width="1" height="36"/><rect x="900" y="609" width="1" height="33"/><rect x="908" y="613" width="1" height="29"/><rect x="916" y="608" width="1" height="34"/><rect x="924" y="610" width="1" height="32"/><rect x="932" y="611" width="1" height="31"/><rect x="940" y="614" width="1" height="28"/><rect x="948" y="619" width="1" height="23"/><rect x="956" y="612" width="1" height="30"/><rect x="964" y="600" width="1" height="42"/><rect x="972" y="592" width="1" height="50"/><rect x="980" y="585" width="1" height="57"/><rect x="988" y="577" width="1" height="65"/><rect x="996" y="575" width="1" height="67"/><rect x="1004" y="583" width="1" height="59"/><rect x="1012" y="588" width="1" height="54"/><rect x="1020" y="594" width="1" height="48"/><rect x="1028" y="599" width="1" height="43"/><rect x="1036" y="606" width="1" height="36"/><rect x="1044" y="613" width="1" height="29"/><rect x="1052" y="616" width="1" height="26"/><rect x="1060" y="621" width="1" height="21"/><rect x="1068" y="624" width="1" height="18"/><rect x="1076" y="627" width="1" height="15"/><rect x="1084" y="627" width="1" height="15"/><rect x="1092" y="630" width="1" height="12"/><rect x="1100" y="631" width="1" height="11"/><rect x="1108" y="633" width="1" height="9"/><rect x="1116" y="636" width="1" height="6"/><rect x="1124" y="639" width="1" height="3"/><rect x="1132" y="641" width="1" height="4"/><rect x="1140" y="641" width="1" height="10"/><rect x="1148" y="641" width="1" height="19"/><rect x="1156" y="641" width="1" height="29"/><rect x="1164" y="641" width="1" height="36"/><rect x="1172" y="641" width="1" height="41"/><rect x="1180" y="641" width="1" height="44"/><rect x="1188" y="641" width="1" height="47"/><rect x="1196" y="641" width="1" height="44"/><rect x="1204" y="641" width="1" height="40"/><rect x="1212" y="641" width="1" height="41"/><rect x="1220" y="641" width="1" height="42"/><rect x="1228" y="641" width="1" height="41"/><rect x="1236" y="641" width="1" height="36"/><rect x="1244" y="641" width="1" height="27"/><rect x="1252" y="641" width="1" height="22"/><rect x="1260" y="641" width="1" height="20"/><rect x="1268" y="641" width="1" height="18"/><rect x="1276" y="641" width="1" height="18"/><rect x="1284" y="641" width="1" height="16"/><rect x="1292" y="641" width="1" height="14"/><rect x="1300" y="641" width="1" height="10"/><rect x="1308" y="641" width="1" height="9"/><rect x="1316" y="641" width="1" height="6"/><rect x="1324" y="641" width="1" height="6"/><rect x="1332" y="641" width="1" height="8"/><rect x="1340" y="641" width="1" height="8"/><rect x="1348" y="641" width="1" height="9"/><rect x="1356" y="641" width="1" height="12"/><rect x="1364" y="641" width="1" height="14"/><rect x="1372" y="641" width="1" height="15"/><rect x="1380" y="641" width="1" height="13"/><rect x="1388" y="641" width="1" height="15"/><rect x="1396" y="641" width="1" height="14"/><rect x="1404" y="641" width="1" height="14"/><rect x="1412" y="641" width="1" height="14"/><rect x="1420" y="641" width="1" height="13"/><rect x="1428" y="641" width="1" height="10"/><rect x="1436" y="641" width="1" height="8"/><rect x="1444" y="641" width="1" height="10"/><rect x="1452" y="641" width="1" height="15"/><rect x="1460" y="641" width="1" height="20"/></g><polyline points="0.0,621.0 11.8,624.6 23.6,630.0 35.4,633.3 47.2,636.4 61.4,639.2 75.6,644.2 82.6,645.8 92.0,654.0 101.5,665.9 111.0,678.9 125.0,697.8 139.3,715.5 151.0,728.5 160.6,734.8 172.4,737.4 181.8,737.4 196.0,734.4 212.5,727.3 226.7,721.4 243.2,711.5 255.0,706.5 271.5,704.4 281.0,704.4 292.8,707.7 309.3,709.6 321.0,707.2 335.3,699.7 351.8,691.4 366.0,683.6 377.8,680.0 387.2,682.4 400.0,687.1 411.8,696.6 423.6,703.7 435.4,715.5 447.2,727.3 459.0,740.3 470.8,750.2 482.6,756.8 494.5,762.7 508.6,765.8 520.4,764.4 532.2,759.2 544.0,749.7 555.8,738.6 570.0,724.9 584.2,709.6 596.0,701.8 605.4,697.0 619.6,695.4 636.0,696.6 650.3,702.0 666.8,707.9 681.0,711.2 695.2,716.0 709.3,717.4 725.9,713.8 740.0,709.6 756.6,701.3 770.7,692.6 784.9,680.0 800.0,665.5 809.4,654.0 821.3,641.0 833.0,629.3 844.9,617.5 854.3,611.6 866.0,606.9 880.3,603.8 894.5,603.8 908.6,605.7 925.0,606.4 941.7,608.8 958.2,610.4 970.0,608.8 981.8,604.5 996.0,597.4 1010.0,592.0 1024.3,587.5 1036.0,588.0 1048.0,591.5 1057.4,596.2 1066.8,603.3 1078.6,610.4 1092.8,617.5 1104.6,623.4 1116.4,625.8 1130.6,631.0 1140.0,632.8 1151.8,639.4 1161.3,646.5 1173.0,655.3 1184.9,663.5 1200.0,672.8 1209.4,677.7 1221.0,681.7 1235.4,682.4 1249.6,678.9 1263.8,673.0 1278.0,669.4 1292.0,663.5 1308.6,656.9 1322.8,654.6 1337.0,651.3 1351.0,650.0 1365.0,650.5 1390.0,651.0 1420.0,651.8 1445.0,652.8 1457.4,653.6 1460.0,655.0" fill="none" stroke="#ff0000" stroke-width="1" stroke-dasharray="3 3"/><line x1="0" y1="814.5" x2="1647" y2="814.5" stroke="#c0c0c0" stroke-width="1" stroke-dasharray="3 3" stroke-dashoffset="-2"/><line x1="0" y1="856.5" x2="1647" y2="856.5" stroke="#c0c0c0" stroke-width="1" stroke-dasharray="3 3" stroke-dashoffset="-2"/><line x1="0" y1="905.5" x2="1647" y2="905.5" stroke="#c0c0c0" stroke-width="1" stroke-dasharray="3 3" stroke-dashoffset="-2"/><polyline points="0.0,863.1 4.0,855.3 12.0,854.8 20.0,856.0 28.0,854.1 36.0,848.9 44.0,857.2 52.0,865.5 60.0,873.3 68.0,870.2 76.0,878.0 84.0,885.5 92.0,896.2 100.0,906.3 108.0,879.2 116.0,880.3 124.0,870.2 132.0,870.2 140.0,873.7 148.0,868.3 156.0,869.5 164.0,873.7 172.0,877.3 180.0,870.9 188.0,867.1 196.0,862.4 204.0,863.6 212.0,861.2 220.0,864.3 228.0,860.3 236.0,863.6 244.0,873.3 252.0,878.0 260.0,873.3 268.0,874.9 276.0,879.2 284.0,870.2 292.0,872.5 300.0,859.1 308.0,854.8 316.0,856.0 324.0,856.5 332.0,860.3 340.0,865.9 348.0,867.4 356.0,863.6 364.0,866.2 372.0,867.8 380.0,874.4 388.0,885.1 396.0,885.1 404.0,886.2 412.0,886.2 420.0,887.2 428.0,891.0 436.0,895.0 444.0,898.5 452.0,895.0 460.0,891.4 468.0,895.0 476.0,885.1 484.0,886.2 492.0,887.2 500.0,888.4 508.0,885.1 516.0,883.2 524.0,867.8 532.0,866.2 540.0,859.1 548.0,858.4 556.0,863.1 564.0,855.3 572.0,864.3 580.0,870.2 588.0,877.3 596.0,875.4 604.0,876.8 612.0,880.8 620.0,869.0 628.0,872.5 636.0,881.3 644.0,878.5 652.0,883.2 660.0,875.4 668.0,878.5 676.0,871.4 684.0,878.0 692.0,876.1 700.0,866.2 708.0,869.5 716.0,864.3 724.0,860.3 732.0,864.3 740.0,865.5 748.0,863.6 756.0,866.2 764.0,851.3 772.0,851.3 780.0,839.0 788.0,843.5 796.0,839.5 804.0,836.4 812.0,832.4 820.0,845.4 828.0,846.6 836.0,845.4 844.0,845.4 852.0,846.6 860.0,854.4 868.0,844.7 876.0,841.4 884.0,849.4 892.0,849.4 900.0,851.3 908.0,854.4 916.0,840.7 924.0,851.3 932.0,849.4 940.0,853.7 948.0,857.7 956.0,840.0 964.0,834.3 972.0,834.3 980.0,833.1 988.0,830.0 996.0,838.3 1004.0,851.3 1012.0,851.3 1020.0,851.3 1028.0,852.5 1036.0,856.0 1044.0,858.4 1052.0,853.7 1060.0,858.4 1068.0,856.0 1076.0,855.3 1084.0,852.5 1092.0,857.2 1100.0,854.1 1108.0,856.0 1116.0,859.6 1124.0,863.1 1132.0,867.8 1140.0,871.4 1148.0,879.2 1156.0,884.4 1164.0,881.5 1172.0,880.3 1180.0,881.3 1188.0,882.5 1196.0,864.8 1204.0,864.8 1212.0,873.3 1220.0,875.6 1228.0,869.0 1236.0,861.4 1244.0,850.6 1252.0,853.7 1260.0,858.4 1268.0,857.2 1276.0,864.3 1284.0,857.2 1292.0,860.3 1300.0,852.5 1308.0,856.0 1316.0,853.7 1324.0,858.4 1332.0,861.4 1340.0,858.4 1348.0,865.5 1356.0,867.4 1364.0,867.4 1372.0,862.6 1380.0,857.7 1388.0,868.3 1396.0,860.3 1404.0,860.0 1412.0,861.4 1420.0,861.2 1428.0,856.0 1436.0,852.5 1444.0,866.6 1452.0,872.1 1460.0,875.6" fill="none" stroke="#1e90ff" stroke-width="1"/><line x1="1006.8" y1="356.5" x2="1192.8" y2="499.6" stroke="#ff0000" stroke-width="3"/><polygon points="1196.0,502.0 1184.2,499.3 1190.3,491.3" fill="#ff0000"/><line x1="1196.0" y1="502.0" x2="1253.6" y2="424.2" stroke="#ff0000" stroke-width="3"/><polygon points="1256.0,421.0 1253.5,432.8 1245.4,426.9" fill="#ff0000"/><line x1="1256.0" y1="421.0" x2="1374.0" y2="467.0" stroke="#ff0000" stroke-width="3"/><polygon points="1377.7,468.5 1365.6,469.2 1369.3,459.8" fill="#ff0000"/><line x1="1377.7" y1="468.5" x2="1436.7" y2="429.8" stroke="#ff0000" stroke-width="3"/><polygon points="1440.0,427.6 1433.5,437.8 1428.1,429.5" fill="#ff0000"/><line x1="1440.0" y1="427.6" x2="1494.7" y2="505.7" stroke="#ff0000" stroke-width="3"/><polygon points="1497.0,509.0 1486.6,502.9 1494.8,497.1" fill="#ff0000"/><line x1="1356.0" y1="647.5" x2="1484.5" y2="658.5" stroke="#ff0000" stroke-width="3"/><polygon points="1488.5,658.8 1477.1,662.8 1478.0,652.9" fill="#ff0000"/><line x1="1304.0" y1="853.7" x2="1424.0" y2="846.8" stroke="#ff0000" stroke-width="3"/><polygon points="1428.0,846.6 1417.3,852.2 1416.7,842.2" fill="#ff0000"/><line x1="1428.0" y1="846.6" x2="1457.3" y2="869.3" stroke="#ff0000" stroke-width="3"/><polygon points="1460.5,871.8 1448.7,869.0 1454.9,861.1" fill="#ff0000"/><g fill="none" stroke="#ff0000" stroke-width="1"><path d="M1243 401.5H1252.5"/><path d="M1187 507.5H1196.5V502"/><path d="M1044 476.5H1051"/><rect x="1051.5" y="474.5" width="3" height="4" fill="#fff"/><path d="M686 548.5H693"/><rect x="683.5" y="547.5" width="3" height="3" fill="#fff"/></g><rect x="1642.5" y="445.5" width="4" height="4" fill="#fff" stroke="#ff4500" stroke-width="1"/><rect x="1642.5" y="474.5" width="4" height="4" fill="#fff" stroke="#32cd32" stroke-width="1"/><rect x="1642.5" y="546.5" width="4" height="4" fill="#fff" stroke="#0000ff" stroke-width="1"/><g fill="#000"><rect x="0" y="26" width="1648" height="1"/><rect x="1647" y="26" width="1" height="902"/><rect x="0" y="561" width="1648" height="1"/><rect x="0" y="563" width="1648" height="1"/><rect x="0" y="782" width="1648" height="1"/><rect x="0" y="784" width="1648" height="1"/><rect x="0" y="927" width="1648" height="1"/><rect x="1648" y="30" width="2" height="1"/><rect x="1648" y="63" width="2" height="1"/><rect x="1648" y="96" width="2" height="1"/><rect x="1648" y="129" width="2" height="1"/><rect x="1648" y="162" width="2" height="1"/><rect x="1648" y="195" width="2" height="1"/><rect x="1648" y="228" width="2" height="1"/><rect x="1648" y="261" width="2" height="1"/><rect x="1648" y="294" width="2" height="1"/><rect x="1648" y="327" width="2" height="1"/><rect x="1648" y="360" width="2" height="1"/><rect x="1648" y="393" width="2" height="1"/><rect x="1648" y="426" width="2" height="1"/><rect x="1648" y="459" width="2" height="1"/><rect x="1648" y="525" width="2" height="1"/><rect x="1648" y="558" width="2" height="1"/><rect x="1648" y="565" width="1" height="1"/><rect x="1648" y="781" width="1" height="1"/><rect x="1648" y="786" width="1" height="1"/><rect x="1648" y="641" width="2" height="1"/><rect x="52" y="928" width="1" height="3"/><rect x="116" y="928" width="1" height="3"/><rect x="180" y="928" width="1" height="3"/><rect x="244" y="928" width="1" height="3"/><rect x="308" y="928" width="1" height="3"/><rect x="372" y="928" width="1" height="3"/><rect x="436" y="928" width="1" height="3"/><rect x="500" y="928" width="1" height="3"/><rect x="564" y="928" width="1" height="3"/><rect x="628" y="928" width="1" height="3"/><rect x="692" y="928" width="1" height="3"/><rect x="756" y="928" width="1" height="3"/><rect x="820" y="928" width="1" height="3"/><rect x="884" y="928" width="1" height="3"/><rect x="948" y="928" width="1" height="3"/><rect x="1012" y="928" width="1" height="3"/><rect x="1076" y="928" width="1" height="3"/><rect x="1140" y="928" width="1" height="3"/><rect x="1204" y="928" width="1" height="3"/><rect x="1268" y="928" width="1" height="3"/><rect x="1332" y="928" width="1" height="3"/><rect x="1396" y="928" width="1" height="3"/><rect x="1460" y="928" width="1" height="3"/></g><polygon points="1458,27 1468,27 1463,32" fill="#c0c0c0"/></svg>
<div class="ax" style="left:1653.4px;top:24.4px;transform:scaleX(0.875);">1.36480</div><div class="ax" style="left:1653.4px;top:57.4px;transform:scaleX(0.875);">1.36060</div><div class="ax" style="left:1653.4px;top:90.4px;transform:scaleX(0.875);">1.35650</div><div class="ax" style="left:1653.4px;top:123.4px;transform:scaleX(0.875);">1.35240</div><div class="ax" style="left:1653.4px;top:156.4px;transform:scaleX(0.875);">1.34820</div><div class="ax" style="left:1653.4px;top:189.4px;transform:scaleX(0.875);">1.34410</div><div class="ax" style="left:1653.4px;top:222.4px;transform:scaleX(0.875);">1.34000</div><div class="ax" style="left:1653.4px;top:255.4px;transform:scaleX(0.875);">1.33580</div><div class="ax" style="left:1653.4px;top:288.4px;transform:scaleX(0.875);">1.33170</div><div class="ax" style="left:1653.4px;top:321.4px;transform:scaleX(0.875);">1.32760</div><div class="ax" style="left:1653.4px;top:354.4px;transform:scaleX(0.875);">1.32340</div><div class="ax" style="left:1653.4px;top:387.4px;transform:scaleX(0.875);">1.31930</div><div class="ax" style="left:1653.4px;top:420.4px;transform:scaleX(0.875);">1.31510</div><div class="ax" style="left:1653.4px;top:453.4px;transform:scaleX(0.875);">1.31100</div><div class="ax" style="left:1653.4px;top:519.4px;transform:scaleX(0.875);">1.30270</div><div class="ax" style="left:1653.4px;top:552.4px;transform:scaleX(0.875);">1.29860</div><div class="pl" style="top:407px;background:#ff0000"><span>1.31680</span></div><div class="pl" style="top:441px;background:#ff4500"><span>1.31256</span></div><div class="pl" style="top:470px;background:#32cd32"><span>1.30893</span></div><div class="pl" style="top:485px;background:#000"><span>1.30695</span></div><div class="pl" style="top:510px;background:#0000ff"><span>1.30386</span></div><div class="pl" style="top:542px;background:#0000ff"><span>1.29993</span></div><div class="ax" style="left:1651px;top:564.4px;transform:scaleX(0.875);">0.004144</div><div class="ax" style="left:1651px;top:635.4px;transform:scaleX(0.875);">0.00</div><div class="ax" style="left:1650.5px;top:769.4px;transform:scaleX(0.875);">-0.007664</div><div class="ax" style="left:1651.5px;top:785.4px;transform:scaleX(0.875);">100</div><div class="ax" style="left:1650px;top:808.4px;transform:scaleX(0.875);">80</div><div class="ax" style="left:1650px;top:850.4px;transform:scaleX(0.875);">50</div><div class="ax" style="left:1650px;top:899.4px;transform:scaleX(0.875);">15</div><div class="ax" style="left:1650px;top:914.4px;transform:scaleX(0.875);">0</div><div class="ax" style="left:-12.5px;top:930.4px;transform:scaleX(0.895);">22 Feb 2022</div><div class="ax" style="left:51.5px;top:930.4px;transform:scaleX(0.895);">23 Feb 12:00</div><div class="ax" style="left:115.5px;top:930.4px;transform:scaleX(0.895);">24 Feb 20:00</div><div class="ax" style="left:179.5px;top:930.4px;transform:scaleX(0.895);">28 Feb 04:00</div><div class="ax" style="left:243.5px;top:930.4px;transform:scaleX(0.895);">1 Mar 12:00</div><div class="ax" style="left:307.5px;top:930.4px;transform:scaleX(0.895);">2 Mar 20:00</div><div class="ax" style="left:371.5px;top:930.4px;transform:scaleX(0.895);">4 Mar 04:00</div><div class="ax" style="left:435.5px;top:930.4px;transform:scaleX(0.895);">7 Mar 12:00</div><div class="ax" style="left:499.5px;top:930.4px;transform:scaleX(0.895);">8 Mar 20:00</div><div class="ax" style="left:563.5px;top:930.4px;transform:scaleX(0.895);">10 Mar 04:00</div><div class="ax" style="left:627.5px;top:930.4px;transform:scaleX(0.895);">11 Mar 12:00</div><div class="ax" style="left:691.5px;top:930.4px;transform:scaleX(0.895);">14 Mar 20:00</div><div class="ax" style="left:755.5px;top:930.4px;transform:scaleX(0.895);">16 Mar 04:00</div><div class="ax" style="left:819.5px;top:930.4px;transform:scaleX(0.895);">17 Mar 12:00</div><div class="ax" style="left:883.5px;top:930.4px;transform:scaleX(0.895);">20 Mar 23:00</div><div class="ax" style="left:947.5px;top:930.4px;transform:scaleX(0.895);">22 Mar 04:00</div><div class="ax" style="left:1011.5px;top:930.4px;transform:scaleX(0.895);">23 Mar 12:00</div><div class="ax" style="left:1075.5px;top:930.4px;transform:scaleX(0.895);">24 Mar 20:00</div><div class="ax" style="left:1139.5px;top:930.4px;transform:scaleX(0.895);">28 Mar 04:00</div><div class="ax" style="left:1203.5px;top:930.4px;transform:scaleX(0.895);">29 Mar 12:00</div><div class="ax" style="left:1267.5px;top:930.4px;transform:scaleX(0.895);">30 Mar 20:00</div><div class="ax" style="left:1331.5px;top:930.4px;transform:scaleX(0.895);">1 Apr 04:00</div><div class="ax" style="left:1395.5px;top:930.4px;transform:scaleX(0.895);">4 Apr 12:00</div><div class="ax" style="left:1459.5px;top:930.4px;transform:scaleX(0.895);">5 Apr 20:00</div><div class="ax ti" style="left:3.5px;top:28.4px;transform:scaleX(0.9);">GBPUSD-,H4&nbsp; 1.30763 1.30788 1.30693 1.30695</div><div class="ax ti" style="left:-7.5px;top:566.4px;transform:scaleX(0.907);">MACD(12,26,9) -0.001084 -0.000720</div><div class="ax ti" style="left:-7px;top:787.4px;transform:scaleX(0.905);">RSI(14) 36.8014</div><div class="rl" style="left:1181px;top:392px;width:62px;height:19px;font-size:15.5px;line-height:18px;letter-spacing:0.3px">1.31823</div><div class="rl" style="left:1125px;top:498px;width:62px;height:19px;font-size:15.5px;line-height:18px;letter-spacing:0.3px">1.30503</div><div class="rl" style="left:621px;top:539px;width:62px;height:19px;font-size:15.5px;line-height:18px;letter-spacing:0.3px">1.29993</div><div class="rl" style="left:1055px;top:464px;width:74px;height:25px;font-size:20.5px;line-height:24px;letter-spacing:-0.6px">1.30893</div>
<div class="pn">
 <div class="sell"><span>SELL</span><u class="d" style="left:0;width:39px"></u><u style="left:0;width:39px"></u></div>
 <div class="spin"><div class="sb"><i class="dn"></i></div><div class="si">1.00</div><div class="sb"><i class="up"></i></div></div>
 <div class="buy"><span>BUY</span><u class="d" style="left:4px;width:44px"></u><u style="left:4px;width:44px"></u></div>
 <div class="pb" style="left:0;width:100px"><b class="sm" style="left:11.5px">1.30</b><span class="bg" style="left:38.5px">69</span><b class="sp" style="left:78.5px">5</b></div>
 <div class="pb" style="left:102px;width:108px"><b class="sm" style="left:19.5px">1.30</b><span class="bg" style="left:47px">74</span><b class="sp" style="left:87px">9</b></div>
 <i class="tp" style="left:43px;width:57px"></i><i class="tp" style="left:102px;width:56px"></i><i class="dm"></i>
</div>

<svg class="ti2" width="1694" height="22" viewBox="0 0 1694 22">
<defs>
<linearGradient id="gG" x1="0" y1="0" x2="0" y2="1"><stop offset="0" stop-color="#8df08d"/><stop offset="1" stop-color="#18a818"/></linearGradient>
<linearGradient id="gY" x1="0" y1="0" x2="1" y2="1"><stop offset="0" stop-color="#f8e27a"/><stop offset="1" stop-color="#c88a1a"/></linearGradient>
<linearGradient id="gB" x1="0" y1="0" x2="0" y2="1"><stop offset="0" stop-color="#9cc8f0"/><stop offset="1" stop-color="#2a6cc4"/></linearGradient>
<radialGradient id="gC" cx="0.5" cy="0.4" r="0.6"><stop offset="0" stop-color="#fff"/><stop offset="1" stop-color="#c8dcf4"/></radialGradient>
<linearGradient id="gR" x1="0" y1="0" x2="0" y2="1"><stop offset="0" stop-color="#ea6844"/><stop offset="1" stop-color="#de2c12"/></linearGradient><g id="dd"><path d="M0 0h5l-2.5 3z" fill="#000"/></g>
<g id="ax"><path d="M2.5 1v14M0 12.5h15" stroke="#444" stroke-width="1.3" fill="none"/><path d="M1 3l1.5-2.5L4 3zM13 11l2.5 1.5L13 14z" fill="#444"/></g>
<g id="grip"><path d="M0.5 2v17M2.5 2v17" stroke="#b8b8b8" stroke-width="1" stroke-dasharray="1 1"/></g>
<g id="sep"><path d="M0.5 2v18" stroke="#bdbdbd" stroke-width="1"/></g>
</defs>
<!-- left cut icon + separator -->
<rect x="0" y="16" width="2" height="2" fill="#e0a030"/>
<path d="M8.5 0v20" stroke="#a8a8a8"/>
<!-- new order -->
<path d="M18.7 3.5a1 1 0 0 1 1-1h6.8l3 3v9a1 1 0 0 1-1 1h-8.8a1 1 0 0 1-1-1z" fill="#fff" stroke="#5a5a5a" stroke-width="1"/><path d="M26.5 2.5v3h3" fill="none" stroke="#5a5a5a" stroke-width="0.8"/><rect x="20.2" y="4.3" width="2.8" height="1.4" fill="#707070"/><path d="M20.2 8.7h4.500M20.2 10.600h4.500M20.2 12.500h3" stroke="#808080" stroke-width="0.9"/>
<path d="M26.1 8.300h3.800v3.800h3.900v3.800h-3.900v3.900h-3.800v-3.900h-3.900v-3.800h3.900z" fill="url(#gG)" stroke="#0e8a0e" stroke-width="0.8"/>
<!-- book -->
<path d="M85.2 11.800l5.3-8.6 10.3 7.8-6.8 5.400z" fill="url(#gY)" stroke="#b07814" stroke-width="0.7"/>
<path d="M85.2 11.800l8.8 4.6 6.8-5.400v1.900l-7 5.5-8.6-4.700z" fill="#b8801c"/><path d="M85.6 12.900l8.3 4.4 6.6-5.2" fill="none" stroke="#f0d890" stroke-width="0.6"/>
<!-- cloud/server -->
<path d="M115.7 3.200l2.3-1h7.600v9h-9.900z" fill="#1e8cf0"/><path d="M118.2 3h7.400v8.500h-7.400z" fill="#52acf8"/><path d="M119.5 5.800l5-.8M119.5 8l3.5-.5" stroke="#e8f4ff" stroke-width="1"/>
<path d="M115.3 17.500a2.5 2.5 0 0 1 .3-5 3.5 3.5 0 0 1 6.5-1.5 3 3 0 0 1 4.7 2.2 2.2 2.2 0 0 1-.3 4.300z" fill="url(#gC)" stroke="#5874b4" stroke-width="0.9"/>
<!-- signal -->
<path d="M149 2.300a7.6 7.6 0 0 0 0 15.2" fill="none" stroke="#a0b8e4" stroke-width="1.3"/><path d="M149 2.300a7.6 7.6 0 0 1 7.6 7.6" fill="none" stroke="#a8d0b0" stroke-width="1.3"/>
<path d="M149 4.900a5 5 0 0 0 0 10" fill="none" stroke="#7c9cdc" stroke-width="1.2"/><path d="M149 4.900a5 5 0 0 1 5 5" fill="none" stroke="#90c498" stroke-width="1.2"/>
<path d="M149 7.400a2.5 2.5 0 0 0 0 5" fill="none" stroke="#6c8cd8" stroke-width="1"/>
<path d="M149.2 10l.2 7.500a7.6 7.6 0 0 0 7.2-7.300z" fill="#a4d4a4" opacity="0.85"/>
<path d="M149.2 10l.2 7.500a7.6 7.6 0 0 0 6.6-4.4" fill="none" stroke="#2ca02c" stroke-width="1.5"/>
<circle cx="149" cy="9.7" r="1.7" fill="#2858c4"/>
<!-- auto trade -->
<path d="M168.4 9.200h15.200l-6 8h-3.500z" fill="url(#gY)" stroke="#c89420" stroke-width="0.5"/>
<ellipse cx="176" cy="7.3" rx="8" ry="2.6" fill="#4c98d8" stroke="#3478b8" stroke-width="0.6"/><path d="M172.8 6.800c0-6 6.4-6 6.4 0z" fill="#7cbcec" stroke="#3478b8" stroke-width="0.5"/>
<circle cx="180.5" cy="13.8" r="4.2" fill="#dc2414"/><rect x="178.8" y="12.1" width="3.4" height="3.4" fill="#fff"/>
<use href="#grip" x="246" y="0"/>
<!-- bar chart -->
<use href="#ax" x="259" y="3"/><path d="M266.5 5v9M266.5 7h2.5M264 12h2.5" stroke="#28a028" stroke-width="1.3" fill="none"/>
<use href="#sep" x="282" y="0"/>
<rect x="284" y="1" width="23" height="20" fill="#f8f8f8" stroke="#dcdcdc" stroke-width="0.6"/>
<use href="#ax" x="287" y="3"/><path d="M295.5 3v11" stroke="#222" stroke-width="1"/><rect x="293.5" y="5.5" width="4" height="6" fill="#28b028" stroke="#187818" stroke-width="0.7"/>
<use href="#ax" x="315" y="3"/><path d="M319 13c1.5-5 3-7.5 5-7.5s3.5 2.5 5.5 4" stroke="#28a028" stroke-width="1.2" fill="none"/>
<use href="#sep" x="339" y="0"/>
<!-- zoom in/out -->
<g id="mg"><path d="M358.5 13l5 5" stroke="#c89820" stroke-width="2.6" stroke-linecap="round"/><circle cx="354" cy="8" r="5.3" fill="#e4f0fc" stroke="#4c84cc" stroke-width="1.5"/></g>
<path d="M351 8h6M354 5v6" stroke="#2c64b8" stroke-width="1.5"/>
<use href="#mg" x="28" y="0"/><path d="M379 8h6" stroke="#2c64b8" stroke-width="1.5"/>
<!-- tile -->
<rect x="404" y="2.5" width="7.5" height="7.5" fill="#3c9c3c"/><rect x="412.5" y="2.5" width="7.5" height="7.5" fill="#3c6cc8"/><rect x="404" y="11" width="7.5" height="7.5" fill="#3c6cc8"/><rect x="412.5" y="11" width="7.5" height="7.5" fill="#3c9c3c"/>
<path d="M405.5 5.5h4.5M414 5.5h4.5M405.5 14h4.5M414 14h4.5" stroke="#fff" stroke-width="1.6"/>
<use href="#sep" x="429" y="0"/>
<rect x="434" y="1" width="26" height="20" fill="#f8f8f8" stroke="#dcdcdc" stroke-width="0.6"/>
<use href="#ax" x="439" y="3"/><path d="M446.5 6.5l4.5 3-4.5 3z" fill="#28a828"/>
<use href="#sep" x="462" y="0"/>
<rect x="463" y="1" width="24" height="20" fill="#f8f8f8" stroke="#dcdcdc" stroke-width="0.6"/>
<use href="#ax" x="467" y="3"/><path d="M475.5 4v10" stroke="#444" stroke-width="1.2"/><path d="M482 9.5h-4M480 7l-3 2.5 3 2.5" stroke="#d03020" stroke-width="1.1" fill="none"/>
<use href="#sep" x="491" y="0"/>
<!-- indicators -->
<path d="M501.5 2.5h7l3 3v9.5h-10z" fill="#fff" stroke="#666" stroke-width="1"/><path d="M505 5c-1 0-1.5 1-1.5 2v5M502.8 8.5h3" stroke="#555" stroke-width="0.9" fill="none"/>
<path d="M509 8.5h3.6v3.400H516v3.6h-3.400V19H509v-3.5h-3.5v-3.6H509z" fill="url(#gG)" stroke="#0c8c0c" stroke-width="0.7"/>
<use href="#dd" x="523" y="9"/>
<!-- clock -->
<circle cx="547" cy="10" r="7.5" fill="#2c64c0" stroke="#1c48a0" stroke-width="1"/><circle cx="547" cy="10" r="5.3" fill="#f4f8ff"/><path d="M547 6.5v4h3" stroke="#444" stroke-width="1.1" fill="none"/>
<use href="#dd" x="562" y="9"/>
<!-- templates -->
<rect x="578" y="3" width="15.5" height="14" fill="#f4f8ff" stroke="#3c6cc0" stroke-width="1.2"/><rect x="578" y="3" width="15.5" height="3" fill="#3c6cc0"/>
<path d="M580 10l3-1.5 3 1 3-2 3 1" stroke="#d04020" stroke-width="1" fill="none"/><path d="M580 14.5l3-1 3 1 3-1.5 3 1" stroke="#28a028" stroke-width="1" fill="none"/>
<use href="#dd" x="601" y="9"/>
<use href="#grip" x="615" y="0"/>
<rect x="622" y="1" width="25" height="20" fill="#f8f8f8" stroke="#dcdcdc" stroke-width="0.6"/>
<path d="M630.5 3.5v12l3-2.8 2.2 4.6 1.8-.9-2.2-4.400h4z" fill="#333" stroke="#222" stroke-width="0.5"/>
<path d="M662.5 4v12M656 10.5h12" stroke="#555" stroke-width="1"/><rect x="661.5" y="9.5" width="2" height="2" fill="#f0f0f0"/>
<use href="#sep" x="679" y="0"/>
<path d="M696.5 4v13" stroke="#555" stroke-width="1"/>
<path d="M718 10.5h13" stroke="#555" stroke-width="1"/>
<path d="M747 16l12-12" stroke="#555" stroke-width="1.1"/>
<path d="M773 14l11-9M776 17l11-9M777 7l1 9M781 4.5l1 9" stroke="#555" stroke-width="1"/><text x="784" y="19" font-size="6" font-weight="bold" fill="#333" font-family="Liberation Sans,sans-serif">E</text>
<path d="M802 4.5h13M802 7.5h13M802 10.5h13M802 13.5h13" stroke="#666" stroke-width="1" stroke-dasharray="1 1"/><text x="812" y="19" font-size="6" font-weight="bold" fill="#333" font-family="Liberation Sans,sans-serif">F</text>
<text x="831.5" y="15" font-size="12.5" font-weight="bold" fill="#666" font-family="Liberation Sans,sans-serif">A</text>
<rect x="858.5" y="4.5" width="12" height="11" fill="none" stroke="#666" stroke-width="1" stroke-dasharray="1 1"/><text x="861" y="14" font-size="10.5" font-weight="bold" fill="#555" font-family="Liberation Sans,sans-serif">T</text>
<path d="M887 8.5l3.5-3.5 3.5 3.5zM892 13l3.5 3.5 3.5-3.5z" fill="#444"/><path d="M889 11l2 2 3-4" stroke="#444" stroke-width="1.2" fill="none"/>
<use href="#dd" x="906.5" y="9"/>
<use href="#grip" x="921" y="0"/>
<rect x="1068.5" y="1" width="25.5" height="20" fill="#f8f8f8" stroke="#dcdcdc" stroke-width="0.6"/>
<use href="#sep" x="1179" y="0"/>
<!-- search -->
<circle cx="1649.5" cy="7.5" r="3.8" fill="#f4f8ff" stroke="#2c5cc8" stroke-width="1.7"/><path d="M1646.7 10.5l-4.5 4.5" stroke="#2c5cc8" stroke-width="2.2" stroke-linecap="round"/>
<!-- chat -->
<path d="M1669.5 16a5.7 4.7 0 1 1 3.5 .6l-3.8 2.400z" fill="#e8e8f0" stroke="#a4a4a4" stroke-width="1.1"/>
<circle cx="1680.5" cy="7.2" r="8.1" fill="url(#gR)"/>
<text x="1676.2" y="12" font-size="12.5" font-weight="bold" fill="#fff" font-family="Liberation Sans,sans-serif">1</text>
</svg>
<div class="tx" style="left:37px;top:0.3px">新订单</div>
<div class="tx" style="left:189px;top:0.3px">自动交易</div>
<div class="tf" style="left:933.5px">M1</div><div class="tf" style="left:961px">M5</div><div class="tf" style="left:987px">M15</div><div class="tf" style="left:1015px">M30</div><div class="tf" style="left:1046px">H1</div><div class="tf" style="left:1074px">H4</div><div class="tf" style="left:1103px">D1</div><div class="tf" style="left:1130px">W1</div><div class="tf" style="left:1157px">MN</div>

</body></html>
